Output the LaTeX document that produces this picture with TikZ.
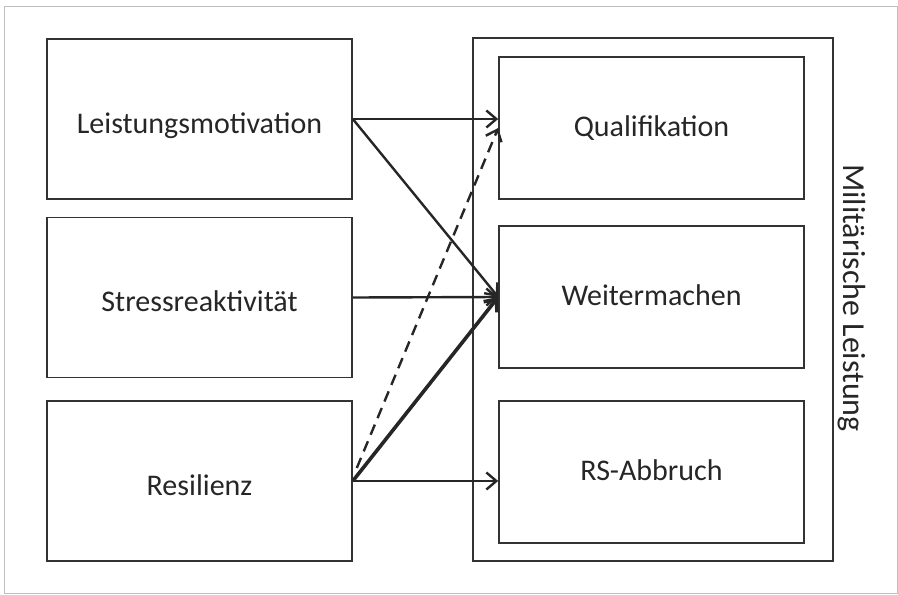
\documentclass[tikz,border=0pt]{standalone}
\usepackage{fontspec}
\setmainfont{Carlito}
\usetikzlibrary{arrows.meta}
\begin{document}
\begin{tikzpicture}[x=1pt,y=-1pt,
    every node/.style={font=\fontsize{30}{36}\selectfont,text=black!85},
    factor/.style={draw=black!80,line width=1.6pt,minimum width=305pt,minimum height=160pt,inner sep=0pt,text height=28pt,text depth=0pt},
    outcome/.style={draw=black!80,line width=1.6pt,minimum width=305pt,minimum height=142pt,inner sep=0pt,text height=17pt,text depth=0pt},
    link/.style={-{Straight Barb[length=10pt,width=17pt]},line width=2.4pt,draw=black!85}]
      \useasboundingbox (0,0) rectangle (898,595);
      \draw[black!25,line width=0.8pt] (4,6) rectangle (897,593);
      % predictors
      \node[factor] (lm) at (199.5,119) {Leistungsmotivation};
      \node[factor] (sr) at (199.5,297.5) {Stressreaktivität};
      \node[factor] (rs) at (199.5,481) {Resilienz};
      % military performance
      \node[draw=black!80,line width=1.6pt,minimum width=360pt,minimum height=523pt,inner sep=0pt] (ml) at (653,299.5) {};
      \node[outcome] (ql) at (651.5,128) {Qualifikation};
      \node[outcome] (wm) at (651.5,297) {Weitermachen};
      \node[outcome] (ab) at (651.5,472) {RS-Abbruch};
      \node[rotate=-90,font=\fontsize{32}{36}\selectfont] (mltext) at (852,298) {Militärische Leistung};
      % effects
      \draw[link] (lm.east) -- (ql.west |- lm.east);
      \draw[link] (lm.east) -- (wm.west);
      \draw[link] (sr.east) -- (wm.west);
      \draw[link,line width=3.6pt] (rs.east) -- (wm.west);
      \draw[link,dash pattern=on 11pt off 7pt] ([xshift=4pt,yshift=13pt]rs.east) -- (ql.west);
      \draw[link] (rs.east) -- (ab.west |- rs.east);
\end{tikzpicture}
\end{document}
